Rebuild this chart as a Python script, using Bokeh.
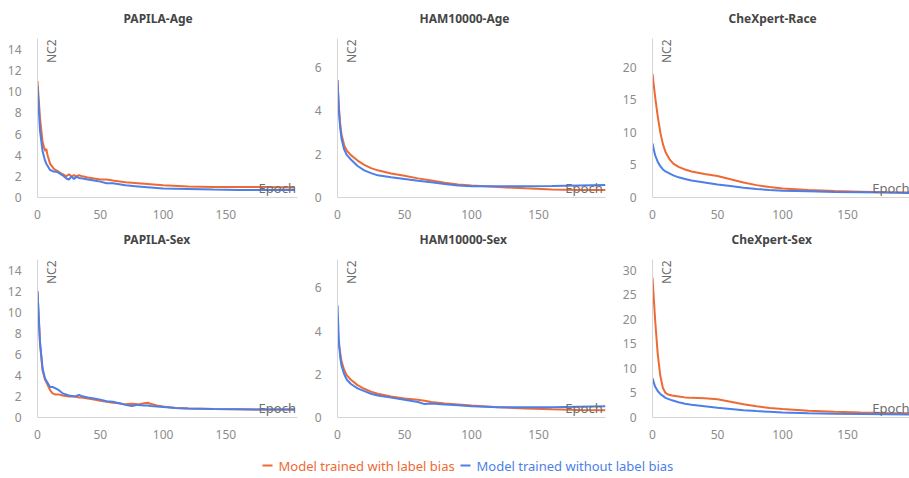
import math
from bokeh.plotting import figure
from bokeh.layouts import column, row
from bokeh.models import Range1d, FixedTicker, Label, Title
from bokeh.embed import file_html
from bokeh.resources import INLINE

# ---------------- data ----------------
titles = ["PAPILA-Age", "HAM10000-Age", "CheXpert-Race",
          "PAPILA-Sex", "HAM10000-Sex", "CheXpert-Sex"]
series_names = ["Model trained with label bias", "Model trained without label bias"]
x_ticks = [0, 50, 100, 150]

papila_age_x = [0, 2, 4, 6, 7, 8, 10, 13, 16, 20, 23, 25, 27, 29, 31, 33, 36, 40, 45, 50, 55, 60, 70, 80, 90, 100, 120, 140, 160, 180, 205]
papila_age_bias = [11.0, 7.5, 5.3, 4.4, 4.6, 4.0, 3.2, 2.7, 2.5, 2.2, 2.0, 2.2, 2.0, 2.1, 2.0, 2.1, 2.0, 1.9, 1.8, 1.7, 1.7, 1.6, 1.45, 1.35, 1.25, 1.15, 1.05, 1.0, 1.0, 1.0, 0.95]
papila_age_nobias = [10.5, 6.3, 4.4, 3.5, 3.2, 3.0, 2.6, 2.45, 2.4, 2.1, 1.8, 1.7, 2.0, 1.75, 1.95, 1.85, 1.8, 1.7, 1.6, 1.5, 1.35, 1.35, 1.15, 1.05, 0.95, 0.85, 0.8, 0.75, 0.72, 0.7, 0.7]
papila_age_yticks = [0, 2, 4, 6, 8, 10, 12, 14]

ham_age_x = [0, 1, 2, 3, 5, 7, 10, 15, 20, 25, 30, 40, 50, 60, 70, 80, 90, 100, 110, 120, 140, 160, 180, 200]
ham_age_bias = [5.4, 4.2, 3.4, 2.9, 2.4, 2.15, 1.95, 1.7, 1.5, 1.35, 1.25, 1.1, 1.0, 0.88, 0.78, 0.68, 0.6, 0.55, 0.52, 0.48, 0.42, 0.37, 0.35, 0.35]
ham_age_nobias = [5.4, 4.0, 3.2, 2.7, 2.2, 1.95, 1.75, 1.45, 1.25, 1.12, 1.02, 0.93, 0.85, 0.77, 0.7, 0.62, 0.55, 0.52, 0.52, 0.52, 0.52, 0.53, 0.55, 0.57]
ham_age_yticks = [0, 2, 4, 6]

chex_race_x = [0, 2, 4, 6, 8, 10, 13, 16, 20, 25, 30, 40, 50, 60, 70, 80, 90, 100, 120, 140, 160, 180, 198]
chex_race_bias = [19.0, 15.5, 12.5, 10.0, 8.2, 7.0, 5.9, 5.2, 4.7, 4.3, 4.0, 3.6, 3.3, 2.8, 2.3, 1.9, 1.6, 1.4, 1.15, 1.0, 0.9, 0.8, 0.75]
chex_race_nobias = [8.3, 6.5, 5.5, 4.8, 4.3, 4.0, 3.7, 3.4, 3.1, 2.85, 2.6, 2.3, 2.0, 1.75, 1.5, 1.3, 1.15, 1.05, 0.95, 0.85, 0.8, 0.75, 0.7]
chex_race_yticks = [0, 5, 10, 15, 20]

papila_sex_x = [0, 2, 4, 6, 8, 10, 12, 14, 17, 20, 25, 30, 33, 35, 40, 45, 50, 55, 60, 65, 70, 75, 80, 85, 88, 90, 95, 100, 110, 120, 140, 160, 180, 205]
papila_sex_bias = [12.0, 7.0, 4.5, 3.6, 3.1, 2.6, 2.3, 2.2, 2.2, 2.1, 2.0, 2.0, 1.9, 1.9, 1.8, 1.7, 1.6, 1.5, 1.4, 1.35, 1.25, 1.3, 1.25, 1.35, 1.4, 1.3, 1.15, 1.05, 0.9, 0.85, 0.8, 0.78, 0.76, 0.75]
papila_sex_nobias = [12.0, 7.2, 4.7, 3.7, 3.3, 2.9, 2.9, 2.8, 2.6, 2.3, 2.1, 2.0, 2.15, 2.05, 1.9, 1.8, 1.7, 1.55, 1.5, 1.35, 1.2, 1.1, 1.2, 1.15, 1.15, 1.1, 1.05, 1.0, 0.9, 0.85, 0.8, 0.78, 0.76, 0.75]
papila_sex_yticks = [0, 2, 4, 6, 8, 10, 12, 14]

ham_sex_x = [0, 1, 2, 3, 5, 7, 10, 15, 20, 25, 30, 40, 50, 60, 65, 70, 80, 90, 100, 120, 140, 160, 180, 200]
ham_sex_bias = [4.0, 3.4, 3.0, 2.6, 2.2, 1.95, 1.75, 1.5, 1.33, 1.2, 1.1, 0.97, 0.88, 0.82, 0.78, 0.72, 0.65, 0.6, 0.55, 0.47, 0.42, 0.38, 0.35, 0.33]
ham_sex_nobias = [5.2, 3.6, 2.8, 2.4, 2.0, 1.75, 1.55, 1.35, 1.22, 1.1, 1.02, 0.92, 0.82, 0.72, 0.62, 0.65, 0.6, 0.57, 0.52, 0.48, 0.47, 0.48, 0.5, 0.52]
ham_sex_yticks = [0, 2, 4, 6]

chex_sex_x = [0, 2, 4, 6, 8, 10, 12, 15, 20, 25, 30, 40, 50, 60, 70, 80, 90, 100, 120, 140, 160, 180, 198]
chex_sex_bias = [28.5, 20.0, 13.0, 8.5, 6.0, 5.0, 4.7, 4.5, 4.3, 4.1, 4.0, 3.9, 3.7, 3.2, 2.7, 2.3, 1.95, 1.75, 1.4, 1.15, 1.0, 0.9, 0.85]
chex_sex_nobias = [8.0, 6.3, 5.4, 4.8, 4.4, 4.0, 3.8, 3.5, 3.1, 2.8, 2.6, 2.3, 2.0, 1.75, 1.5, 1.3, 1.15, 1.0, 0.85, 0.75, 0.7, 0.65, 0.6]
chex_sex_yticks = [0, 5, 10, 15, 20, 25, 30]

# ---------------- style ----------------
FONT = "Noto Sans"
ORANGE = "#EE6A35"
BLUE = "#4D7FE8"
TICK_COLOR = "#8c8c8c"
AXIS_COLOR = "#d6d6d6"
NAME_COLOR = "#6e6e6e"
TITLE_COLOR = "#454545"
FRAME_H = 161  # frame extends 10px above the top tick so the axis name fits


def make_panel(title, x, bias, nobias, yticks, ytop, xmax, bl, br, bt, bb,
               epoch_x, title_off):
    # ytop: value at the top tick position (151 px above the x axis)
    ymax = ytop * FRAME_H / 151.0
    t = Title(text=title, align="left", offset=title_off, standoff=19,
              vertical_align="top",
              text_font=FONT, text_font_style="bold", text_font_size="12px",
              text_color=TITLE_COLOR)
    p = figure(width=303, height=bt + FRAME_H + bb, x_range=Range1d(0, xmax),
               y_range=Range1d(0, ymax), output_backend="svg", title=t,
               toolbar_location=None, min_border_left=bl, min_border_right=br,
               min_border_top=bt, min_border_bottom=bb)
    p.outline_line_color = None
    p.grid.visible = False
    p.background_fill_color = "white"
    p.border_fill_color = "white"
    for ax in (p.xaxis[0], p.yaxis[0]):
        ax.axis_line_color = AXIS_COLOR
        ax.major_tick_line_color = None
        ax.minor_tick_line_color = None
        ax.major_label_text_color = TICK_COLOR
        ax.major_label_text_font = FONT
        ax.major_label_text_font_size = "12px"
    p.xaxis[0].ticker = FixedTicker(ticks=x_ticks)
    p.yaxis[0].ticker = FixedTicker(ticks=yticks)
    p.xaxis[0].major_label_standoff = 6
    p.yaxis[0].major_label_standoff = 10

    p.line(x, bias, line_color=ORANGE, line_width=2)
    p.line(x, nobias, line_color=BLUE, line_width=2)

    upp = ymax / FRAME_H  # data units per pixel (vertical)
    p.add_layout(Label(x=4, y=ymax - 1 * upp, text="NC2", angle=math.pi / 2,
                       text_font=FONT, text_font_size="12px",
                       text_color=NAME_COLOR, text_align="right",
                       text_baseline="top"))
    p.add_layout(Label(x=epoch_x, y=1 * upp, text="Epoch",
                       text_font=FONT, text_font_size="13px",
                       text_color=NAME_COLOR, text_align="left",
                       text_baseline="bottom"))
    return p


# top row: 36 + 161 + 24 = 221 ; bottom row: 35 + 161 + 28 = 224
p1 = make_panel(titles[0], papila_age_x, papila_age_bias, papila_age_nobias,
                papila_age_yticks, 14.1, 207, 37, 6, 36, 24, 176, 86)
p2 = make_panel(titles[1], ham_age_x, ham_age_bias, ham_age_nobias,
                ham_age_yticks, 6.86, 200, 34, 1, 36, 24, 170, 82)
p3 = make_panel(titles[2], chex_race_x, chex_race_bias, chex_race_nobias,
                chex_race_yticks, 22.9, 197.7, 46, 0, 36, 24, 169, 76)
p4 = make_panel(titles[3], papila_sex_x, papila_sex_bias, papila_sex_nobias,
                papila_sex_yticks, 14.1, 207, 37, 6, 35, 28, 176, 86)
p5 = make_panel(titles[4], ham_sex_x, ham_sex_bias, ham_sex_nobias,
                ham_sex_yticks, 6.86, 200, 34, 1, 35, 28, 170, 82)
p6 = make_panel(titles[5], chex_sex_x, chex_sex_bias, chex_sex_nobias,
                chex_sex_yticks, 30.2, 197.7, 46, 0, 35, 28, 169, 79)

# ---------------- legend ----------------
leg = figure(width=909, height=33, x_range=Range1d(0, 909), y_range=Range1d(0, 33),
             output_backend="svg", toolbar_location=None,
             min_border_left=0, min_border_right=0, min_border_top=0,
             min_border_bottom=0)
leg.axis.visible = False
leg.grid.visible = False
leg.outline_line_color = None
leg_colors = [ORANGE, BLUE]
leg_starts = [262, 460]
for name, col, sx in zip(series_names, leg_colors, leg_starts):
    leg.segment(x0=[sx], y0=[13], x1=[sx + 10], y1=[13], line_color=col, line_width=2)
    leg.add_layout(Label(x=sx + 16, y=13, text=name, text_font=FONT,
                         text_font_size="13px", text_color=col,
                         text_align="left", text_baseline="middle"))

layout = column(row(p1, p2, p3), row(p4, p5, p6), leg)

open("out.html", "w").write(file_html(layout, INLINE))
